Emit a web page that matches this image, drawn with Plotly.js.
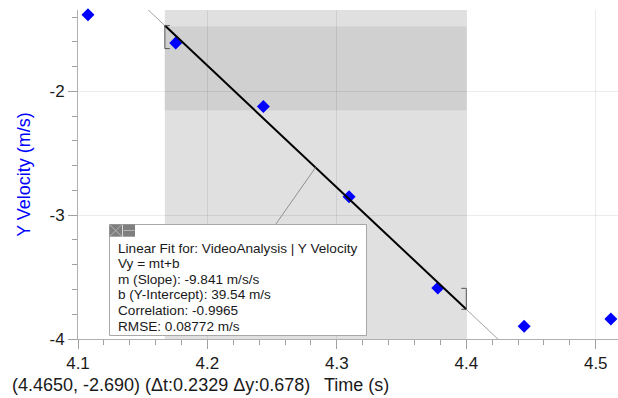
<!DOCTYPE html>
<html>
<head>
<meta charset="utf-8">
<script src="https://cdn.plot.ly/plotly-3.0.1.min.js"></script>
<style>html,body{margin:0;padding:0;background:#fff;}#chart{width:618px;height:398px;}</style>
</head>
<body>
<div id="chart"></div>
<script>
// ---- data ----
const timeS = [4.1077, 4.1755, 4.2432, 4.3094, 4.3780, 4.4447, 4.5117];
const yVel  = [-1.380, -1.609, -2.121, -2.851, -3.588, -3.898, -3.839];
const fitSlope = -9.841;
const fitIntercept = 39.54;
const fitRange = [4.1671, 4.4000];
const bandRange = [-2.153, -1.475];
const xTickVals = [4.1, 4.2, 4.3, 4.4, 4.5];
const yTickVals = [-4, -3, -2];
const fitLines = [
  "Linear Fit for: VideoAnalysis | Y Velocity",
  "Vy = mt+b",
  "m (Slope): -9.841 m/s/s",
  "b (Y-Intercept): 39.54 m/s",
  "Correlation: -0.9965",
  "RMSE: 0.08772 m/s"
];
const statusText = "(4.4650, -2.690) (\u0394t:0.2329 \u0394y:0.678)";
const xTitle = "Time (s)";
const yTitle = "Y Velocity (m/s)";

// ---- layout geometry ----
const W = 618, H = 398;
const M = {l: 78, r: 0, t: 10, b: 59};
const PW = W - M.l - M.r, PH = H - M.t - M.b;
const xRange = [4.1, 4.5172];
const yRange = [-4, -1.3425];
const px = x => (x - M.l) / PW;         // pixel -> paper x
const py = y => (H - M.b - y) / PH;     // pixel -> paper y
const fitY = t => fitSlope * t + fitIntercept;
const fitMid = (fitRange[0] + fitRange[1]) / 2;

const FONT = '"Liberation Sans", Arial, sans-serif';

const traces = [
  { // thin full-width fit extension
    x: xRange, y: xRange.map(fitY), mode: 'lines',
    line: {color: '#a0a0a0', width: 1}, hoverinfo: 'skip', showlegend: false
  },
  { // data points
    x: timeS, y: yVel, mode: 'markers', cliponaxis: false,
    marker: {symbol: 'diamond', size: 10, color: '#0000ff'}, showlegend: false
  },
  { // bold fit over selected range
    x: fitRange, y: fitRange.map(fitY), mode: 'lines',
    line: {color: '#000000', width: 2}, showlegend: false
  }
];

const shapes = [
  {type: 'rect', layer: 'below', xref: 'x', yref: 'paper', x0: fitRange[0], x1: fitRange[1], y0: 0, y1: 1,
   fillcolor: '#e0e0e0', line: {width: 0}},
  {type: 'rect', layer: 'below', xref: 'x', yref: 'y', x0: fitRange[0], x1: fitRange[1], y0: bandRange[0], y1: bandRange[1],
   fillcolor: '#d0d0d0', line: {width: 0}},
  // brackets at fit ends
  {type: 'path', xref: 'x', yref: 'y', xsizemode: 'pixel', ysizemode: 'pixel',
   xanchor: fitRange[0], yanchor: fitY(fitRange[0]),
   path: 'M 5,0 L 0,0 L 0,-23 L 5,-23', line: {color: '#555555', width: 1}},
  {type: 'path', xref: 'x', yref: 'y', xsizemode: 'pixel', ysizemode: 'pixel',
   xanchor: fitRange[1], yanchor: fitY(fitRange[1]),
   path: 'M -5,0 L 0,0 L 0,21 L -5,21', line: {color: '#555555', width: 1}},
  // leader line from fit midpoint to the box
  {type: 'line', xref: 'x', yref: 'y', xsizemode: 'pixel', ysizemode: 'pixel',
   xanchor: fitMid, yanchor: fitY(fitMid), x0: 0, y0: 0, x1: -39.6, y1: -56.5,
   line: {color: '#909090', width: 1}},
  // fit box
  {type: 'rect', xref: 'paper', yref: 'paper', x0: px(109.5), x1: px(366.5), y0: py(335.5), y1: py(224.5),
   fillcolor: '#ffffff', line: {color: '#a8a8a8', width: 1}},
  // title-bar icons of the fit box
  {type: 'rect', xref: 'paper', yref: 'paper', x0: px(109.5), x1: px(122), y0: py(236.7), y1: py(224.5),
   fillcolor: '#7f7f7f', line: {width: 0}},
  {type: 'rect', xref: 'paper', yref: 'paper', x0: px(122.7), x1: px(135), y0: py(236.7), y1: py(224.5),
   fillcolor: '#7f7f7f', line: {width: 0}},
  {type: 'line', xref: 'paper', yref: 'paper', x0: px(110), x1: px(121.5), y0: py(225), y1: py(236.2),
   line: {color: '#b4b4b4', width: 1}},
  {type: 'line', xref: 'paper', yref: 'paper', x0: px(110), x1: px(121.5), y0: py(236.2), y1: py(225),
   line: {color: '#b4b4b4', width: 1}},
  {type: 'line', xref: 'paper', yref: 'paper', x0: px(123.5), x1: px(134.5), y0: py(230.5), y1: py(230.5),
   line: {color: '#b4b4b4', width: 1}}
];

const annotations = [];
fitLines.forEach((t, i) => annotations.push({
  xref: 'paper', yref: 'paper', x: px(115.5), y: py(248.3 + i * 15.55),
  xanchor: 'left', yanchor: 'middle', showarrow: false, text: t,
  font: {family: FONT, size: 13.6, color: '#1a1a1a'}
}));
annotations.push({
  xref: 'paper', yref: 'paper', x: px(10.5), y: py(385), xanchor: 'left', yanchor: 'middle',
  showarrow: false, text: statusText, font: {family: FONT, size: 18, color: '#1a1a1a'}, borderpad: 0
});
annotations.push({ // x-axis title, placed right of the status read-out
  xref: 'paper', yref: 'paper', x: px(322.5), y: py(385), xanchor: 'left', yanchor: 'middle',
  showarrow: false, text: xTitle, font: {family: FONT, size: 18, color: '#1a1a1a'}, borderpad: 0
});

const layout = {
  width: W, height: H, margin: M,
  paper_bgcolor: '#ffffff', plot_bgcolor: '#ffffff',
  font: {family: FONT, size: 17, color: '#1a1a1a'},
  showlegend: false,
  xaxis: {
    range: xRange, tickvals: xTickVals, ticktext: xTickVals.map(v => v.toFixed(1)),
    ticks: 'outside', ticklen: 9, tickcolor: '#a0a0a0', tickwidth: 1, ticklabelstandoff: 0,
    showline: true, linecolor: '#b0b0b0', linewidth: 1,
    showgrid: true, gridcolor: 'rgba(0,0,0,0.08)', gridwidth: 1, zeroline: false,
    minor: {dtick: 0.02, tick0: 4.1, ticks: 'outside', ticklen: 5, tickcolor: '#a0a0a0', showgrid: false}
  },
  yaxis: {
    range: yRange, tickvals: yTickVals, ticktext: yTickVals.map(v => String(v)),
    ticks: 'outside', ticklen: 9, tickcolor: '#a0a0a0', tickwidth: 1,
    showline: true, linecolor: '#b0b0b0', linewidth: 1,
    showgrid: true, gridcolor: 'rgba(0,0,0,0.08)', gridwidth: 1, zeroline: false,
    minor: {dtick: 0.2, tick0: -4, ticks: 'outside', ticklen: 5, tickcolor: '#a0a0a0', showgrid: false},
    title: {text: yTitle, font: {size: 18, color: '#0000ff'}, standoff: 14}
  },
  shapes: shapes,
  annotations: annotations
};

Plotly.newPlot('chart', traces, layout, {displayModeBar: false, staticPlot: true});
</script>
</body>
</html>
